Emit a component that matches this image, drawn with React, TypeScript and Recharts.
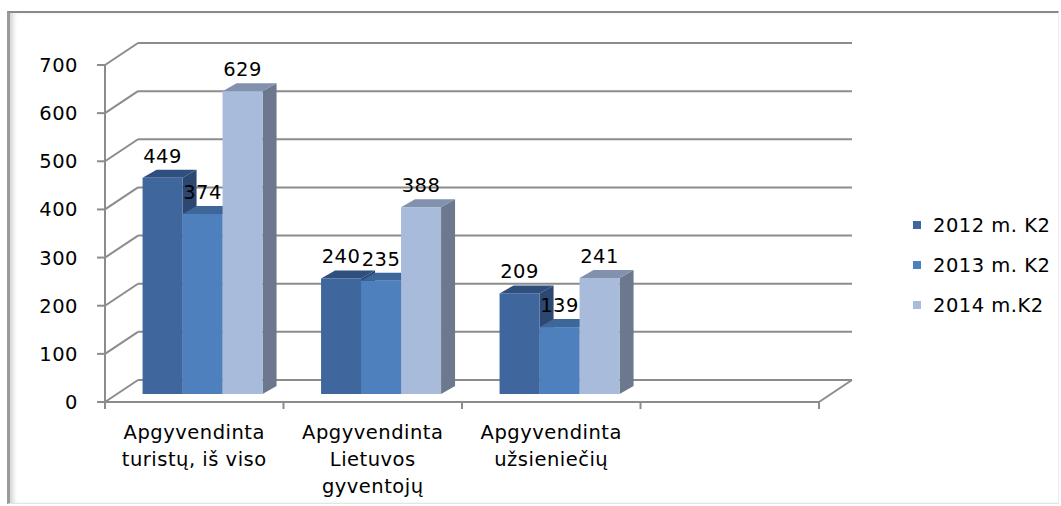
import React from 'react';
import { BarChart, Bar, XAxis, YAxis, CartesianGrid, LabelList, Legend, ReferenceLine } from 'recharts';

// ---- data ----
const categories = ['Apgyvendinta\nturistų, iš viso', 'Apgyvendinta\nLietuvos\ngyventojų', 'Apgyvendinta\nužsieniečių', ''];
const series2012 = [449, 240, 209, null];
const series2013 = [374, 235, 139, null];
const series2014 = [629, 388, 241, null];
const seriesNames = ['2012 m. K2', '2013 m. K2', '2014 m.K2'];
const yTicks = [0, 100, 200, 300, 400, 500, 600, 700];

const data = categories.map((name, i) => ({
  name,
  s2012: series2012[i],
  s2013: series2013[i],
  s2014: series2014[i],
}));

// ---- layout / style ----
const W = 1061;
const H = 506;
const MARGIN = { top: 43, left: 137, right: 209, bottom: 125 };
const PLOT_W = W - (MARGIN.left + 1) - MARGIN.right;
const PLOT_H = H - MARGIN.top - (MARGIN.bottom + 1);
const DX = 33; // depth of the 3D box (x)
const DY = 22; // depth of the 3D box (y)
const BAR_DX = -24;
const BAR_DY = 14;
const SIDE_X = 14;
const SIDE_Y = 8;
const GRID = '#8c8c8c';
const FONT = '"DejaVu Sans", Verdana, sans-serif';
const FS = 19.5;
const LS = 0.5;

const COLORS = [
  { front: '#3f679e', top: '#2f4f7e', side: '#2c4770' },
  { front: '#4e80bd', top: '#3d6699', side: '#34578a' },
  { front: '#a9bbda', top: '#8191ae', side: '#6c788d' },
];

const make3D = (c: { front: string; top: string; side: string }) => (props: any) => {
  const { x, y, width, height } = props;
  if (width == null || height == null || !(height > 0)) return <g />;
  const fx = x + BAR_DX;
  const fy = y + BAR_DY;
  const w = width;
  const h = height;
  return (
    <g>
      <polygon
        points={`${fx + w},${fy} ${fx + w + SIDE_X},${fy - SIDE_Y} ${fx + w + SIDE_X},${fy + h - SIDE_Y} ${fx + w},${fy + h}`}
        fill={c.side}
      />
      <polygon
        points={`${fx},${fy} ${fx + w},${fy} ${fx + w + SIDE_X},${fy - SIDE_Y} ${fx + SIDE_X},${fy - SIDE_Y}`}
        fill={c.top}
      />
      <rect x={fx} y={fy} width={w} height={h} fill={c.front} />
    </g>
  );
};

const renderValueLabel = (props: any) => {
  const { x, y, width, value } = props;
  if (value == null) return null;
  return (
    <text
      x={x + width / 2 + BAR_DX}
      y={y + BAR_DY - 15}
      textAnchor="middle"
      fontFamily={FONT}
      fontSize={FS}
      letterSpacing={LS}
      fill="#000"
    >
      {value}
    </text>
  );
};

const YTick = (props: any) => {
  const { x, y, payload } = props;
  const fx = x - DX;
  const fy = y + DY;
  return (
    <g>
      <line x1={x} y1={y} x2={fx} y2={fy} stroke={GRID} strokeWidth={2} />
      <line x1={fx - 8} y1={fy} x2={fx} y2={fy} stroke={GRID} strokeWidth={2} />
      <text
        x={fx - 27}
        y={fy + 7}
        textAnchor="end"
        fontFamily={FONT}
        fontSize={FS}
        letterSpacing={LS}
        fill="#000"
      >
        {payload.value}
      </text>
    </g>
  );
};

const XTick = (props: any) => {
  const { x, y, payload, index, visibleTicksCount } = props;
  const fx = x - DX;
  const fy = y + DY;
  const band = PLOT_W / categories.length;
  const lines = String(payload.value ?? '').split('\n');
  return (
    <g>
      <line x1={fx - band / 2} y1={fy} x2={fx - band / 2} y2={fy + 7} stroke={GRID} strokeWidth={2} />
      {index === visibleTicksCount - 1 ? (
        <line x1={fx + band / 2} y1={fy} x2={fx + band / 2} y2={fy + 7} stroke={GRID} strokeWidth={2} />
      ) : null}
      <text textAnchor="middle" fontFamily={FONT} fontSize={FS} letterSpacing={LS} fill="#000">
        {lines.map((l, i) => (
          <tspan key={i} x={fx} y={fy + 37 + i * 27}>
            {l}
          </tspan>
        ))}
      </text>
    </g>
  );
};

const Floor = (props: any) => {
  const { x1, x2, y1 } = props;
  const y = y1;
  return (
    <g>
      <line x1={x1 - DX} y1={y + DY} x2={x2 - DX} y2={y + DY} stroke={GRID} strokeWidth={2} />
      <line x1={x2} y1={y} x2={x2 - DX} y2={y + DY} stroke={GRID} strokeWidth={2} />
      <line x1={x1 - DX} y1={y + DY - PLOT_H} x2={x1 - DX} y2={y + DY} stroke={GRID} strokeWidth={2} />
    </g>
  );
};

const renderLegend = (props: any) => {
  const { payload } = props;
  return (
    <div style={{ fontFamily: FONT, fontSize: FS, letterSpacing: LS, color: '#000' }}>
      {(payload || []).map((e: any, i: number) => (
        <div key={i} style={{ height: 40, display: 'flex', alignItems: 'center' }}>
          <span
            style={{
              display: 'inline-block',
              width: 8,
              height: 8,
              background: e.color,
              marginLeft: 8,
              marginRight: 12,
            }}
          />
          <span style={{ whiteSpace: 'nowrap' }}>{e.value}</span>
        </div>
      ))}
    </div>
  );
};

export default function App() {
  return (
    <div style={{ position: 'absolute', left: 0, top: 0, width: W, height: H, background: '#fff', overflow: 'hidden' }}>
      <div
        style={{
          position: 'absolute',
          left: 7,
          top: 11,
          width: W - 7 - 2,
          height: H - 11 - 2,
          borderTop: '2px solid #8a8a8a',
          borderLeft: '3px solid #9a9a9a',
          borderBottom: '1px solid #e4e4e4',
          borderRight: '1px solid #eeeeee',
          boxShadow: 'inset 5px 0 5px -2px rgba(0,0,0,0.18)',
          boxSizing: 'border-box',
        }}
      />
      <div style={{ position: 'absolute', left: 0, top: 0 }}>
        <BarChart width={W} height={H} data={data} margin={MARGIN} barGap={0} barCategoryGap="16%">
          <CartesianGrid horizontal vertical={false} stroke={GRID} strokeWidth={2} />
          <XAxis
            dataKey="name"
            height={1}
            interval={0}
            tickLine={false}
            axisLine={false}
            tickSize={0}
            tickMargin={0}
            tick={XTick}
          />
          <YAxis
            width={1}
            domain={[0, 700]}
            ticks={yTicks}
            interval={0}
            tickLine={false}
            axisLine={false}
            tickSize={0}
            tickMargin={0}
            tick={YTick}
          />
          <ReferenceLine y={0} shape={Floor} />
          <Bar dataKey="s2012" name={seriesNames[0]} fill={COLORS[0].front} shape={make3D(COLORS[0])} isAnimationActive={false}>
            <LabelList dataKey="s2012" content={renderValueLabel} />
          </Bar>
          <Bar dataKey="s2013" name={seriesNames[1]} fill={COLORS[1].front} shape={make3D(COLORS[1])} isAnimationActive={false}>
            <LabelList dataKey="s2013" content={renderValueLabel} />
          </Bar>
          <Bar dataKey="s2014" name={seriesNames[2]} fill={COLORS[2].front} shape={make3D(COLORS[2])} isAnimationActive={false}>
            <LabelList dataKey="s2014" content={renderValueLabel} />
          </Bar>
          <Legend
            layout="vertical"
            align="center"
            verticalAlign="middle"
            content={renderLegend}
            wrapperStyle={{ left: 905, top: 205, width: 156 }}
          />
        </BarChart>
      </div>
    </div>
  );
}
